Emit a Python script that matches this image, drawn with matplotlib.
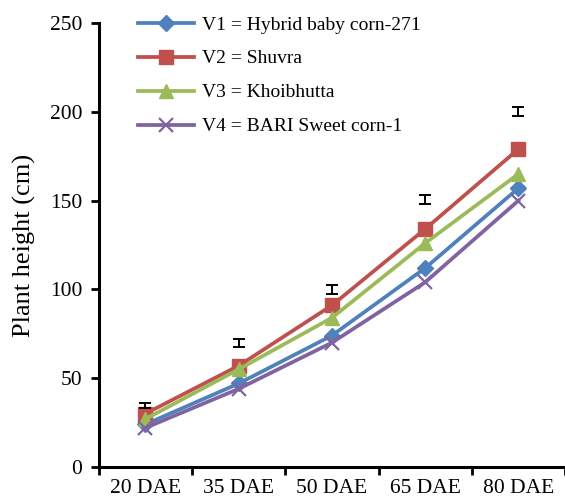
import matplotlib
matplotlib.use('Agg')
import matplotlib.pyplot as plt
from matplotlib.ticker import FixedLocator

plt.rcParams['font.family'] = ['Liberation Serif', 'DejaVu Serif']

days = ['20 DAE', '35 DAE', '50 DAE', '65 DAE', '80 DAE']
v1 = [24, 47, 74, 112, 157]
v2 = [30, 57, 91, 134, 179]
v3 = [27, 55, 84, 126, 165]
v4 = [22, 44, 70, 104, 150]
labels = ['V1 = Hybrid baby corn-271', 'V2 = Shuvra', 'V3 = Khoibhutta', 'V4 = BARI Sweet corn-1']
# LSD bars drawn above the lines
lsd_mid = [34.5, 70, 100, 150.5, 200]
lsd_err = [1.5, 2.3, 2.4, 2.5, 2.5]

fig = plt.figure(figsize=(5.65, 5.01), dpi=100)
ax = fig.add_axes([0.175, 0.068, 0.825, 0.886])

x = list(range(len(days)))
ax.plot(x, v1, color='#4F81BD', lw=2.7, marker='D', ms=8.5, label=labels[0])
ax.plot(x, v2, color='#C0504D', lw=2.7, marker='s', ms=10, label=labels[1])
ax.plot(x, v3, color='#9BBB59', lw=2.7, marker='^', ms=10.5, label=labels[2])
ax.plot(x, v4, color='#8064A2', lw=2.7, marker='x', ms=9.5, mew=1.6, label=labels[3])
ax.errorbar(x, lsd_mid, yerr=lsd_err, fmt='none', ecolor='black', elinewidth=1.4, capsize=4.5, capthick=1.4)

ax.set_xlim(-0.5, 4.5)
ax.set_ylim(0, 250)
ax.set_yticks([0, 50, 100, 150, 200, 250])
ax.set_xticks(x)
ax.set_xticklabels(days)
ax.xaxis.set_minor_locator(FixedLocator([-0.5, 0.5, 1.5, 2.5, 3.5, 4.5]))
ax.tick_params(axis='x', which='major', length=0, labelsize=15.5, pad=9)
ax.tick_params(axis='x', which='minor', length=6, width=2, direction='out')
ax.tick_params(axis='y', length=6, width=2, direction='out', labelsize=15.5, pad=6)
for s in ['top', 'right']:
    ax.spines[s].set_visible(False)
for s in ['left', 'bottom']:
    ax.spines[s].set_linewidth(2.2)
ax.set_ylabel('Plant height (cm)', fontsize=19, labelpad=10)

ax.legend(loc='upper left', bbox_to_anchor=(0.084, 1.016), frameon=False, fontsize=14,
          handlelength=2.9, handletextpad=0.4, labelspacing=0.84, borderpad=0, borderaxespad=0)

fig.savefig('out.png', dpi=100)
